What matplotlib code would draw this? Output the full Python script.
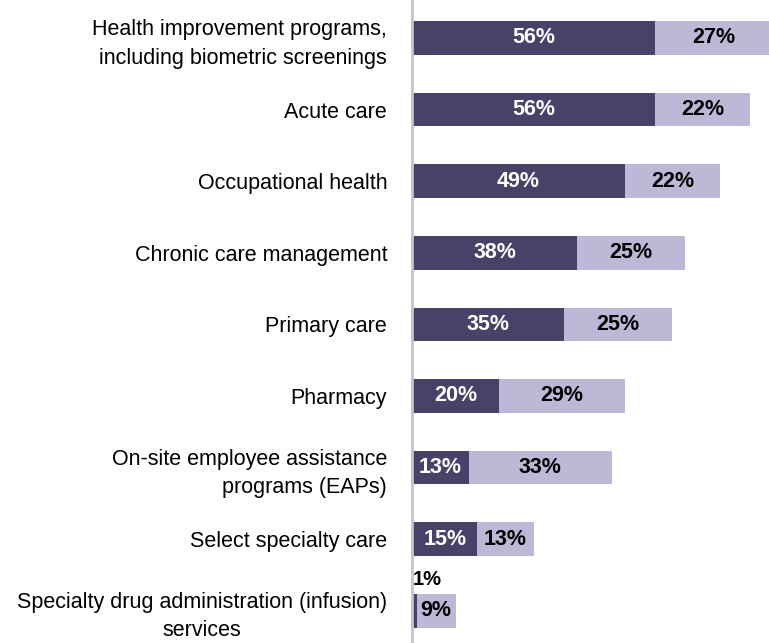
import matplotlib.pyplot as plt

categories = [
    "Health improvement programs,\nincluding biometric screenings",
    "Acute care",
    "Occupational health",
    "Chronic care management",
    "Primary care",
    "Pharmacy",
    "On-site employee assistance\nprograms (EAPs)",
    "Select specialty care",
    "Specialty drug administration (infusion)\nservices",
]
offered = [56, 56, 49, 38, 35, 20, 13, 15, 1]
planned = [27, 22, 22, 25, 25, 29, 33, 13, 9]

DARK = "#4a4169"
LIGHT = "#bdb8d6"

plt.rcParams['font.family'] = ['Liberation Sans', 'DejaVu Sans']

fig = plt.figure(figsize=(7.69, 6.43), dpi=100)
ax = fig.add_axes([0.536, 0.0, 0.464, 1.0])

ypos = list(range(len(categories)))
ax.barh(ypos, offered, height=0.47, color=DARK)
ax.barh(ypos, planned, left=offered, height=0.47, color=LIGHT)

# percentage labels: white on dark segment, black on light one
for y, a, b in zip(ypos, offered, planned):
    if a >= 5:
        ax.text(a / 2, y, f"{a}%", ha="center", va="center", color="white",
                fontsize=15.5, fontweight="bold")
    else:
        ax.text(0.1, y - 0.43, f"{a}%", ha="left", va="center", color="black",
                fontsize=14.5, fontweight="bold")
    ax.text(a + b / 2, y, f"{b}%", ha="center", va="center", color="black",
            fontsize=15.5, fontweight="bold")

ax.set_xlim(0, 82.3)
ax.set_ylim(8.45, -0.53)
ax.set_yticks(ypos)
ax.set_yticklabels(categories, fontsize=15.5, ha="right", linespacing=1.45)
for lbl in ax.get_yticklabels():
    lbl.set_multialignment("center" if "services" in lbl.get_text() else "right")
ax.tick_params(axis="y", length=0, pad=18)
ax.set_xticks([])
for side in ["top", "right", "bottom"]:
    ax.spines[side].set_visible(False)
ax.spines["left"].set_color("#c4c4c4")
ax.spines["left"].set_linewidth(2)

fig.savefig("out.png", dpi=100)
